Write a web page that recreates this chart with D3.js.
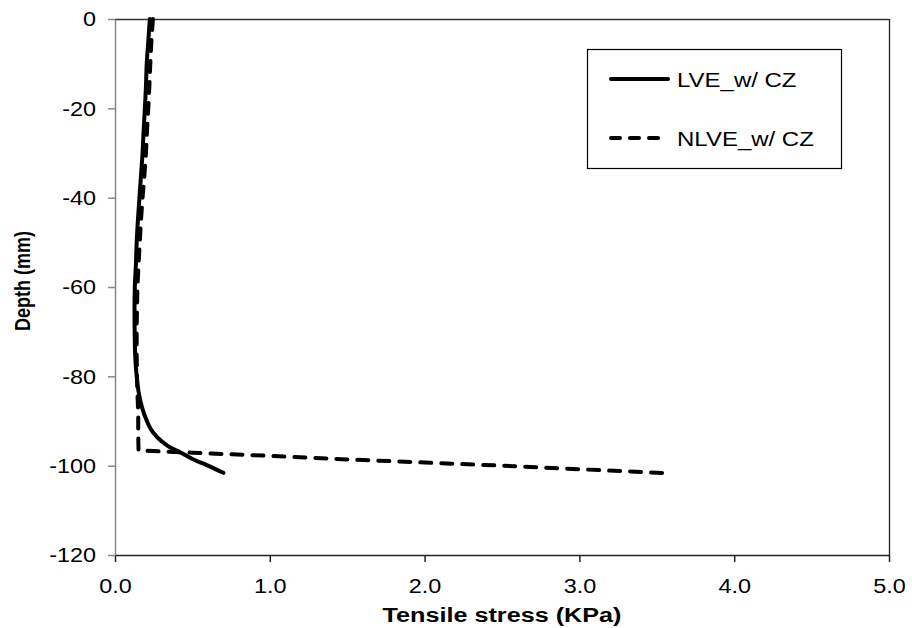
<!DOCTYPE html>
<html><head><meta charset="utf-8">
<script src="https://cdn.jsdelivr.net/npm/d3@7/dist/d3.min.js"></script>
<style>body{margin:0;background:#fff}svg{display:block}text{font-family:Arial,"Liberation Sans",sans-serif;fill:#000}</style>
</head><body><svg id="c" width="912" height="628"></svg>
<script>
const seriesNames = ["LVE_w/ CZ", "NLVE_w/ CZ"];
const lveStress = [0.225,0.215,0.205,0.2,0.193,0.185,0.178,0.168,0.158,0.148,0.14,0.135,0.128,0.126,0.127,0.13,0.14,0.155,0.175,0.2,0.245,0.3,0.36,0.42,0.5,0.6,0.70];
const lveDepth  = [0,-5,-10,-15,-20,-25,-30,-35,-40,-45,-50,-55,-60,-65,-70,-75,-80,-84,-87,-89.5,-92.5,-94.5,-96,-97,-98.5,-100,-101.6];
const nlveStress = [0.245,0.235,0.228,0.222,0.215,0.207,0.2,0.19,0.178,0.168,0.16,0.152,0.145,0.142,0.14,0.14,0.142,0.145,0.15,0.15,0.152,0.5,1.0,1.5,2.0,2.5,3.0,3.59];
const nlveDepth  = [0,-5,-10,-15,-20,-25,-30,-35,-40,-45,-50,-55,-60,-65,-70,-75,-80,-84,-88,-93,-96.6,-97.1,-97.8,-98.6,-99.3,-100.0,-100.8,-101.7];
const xTicks = [0,1,2,3,4,5];
const yTicks = [0,-20,-40,-60,-80,-100,-120];

const svg = d3.select("#c");
const L=115, R=889, T=19, B=555;
const x = d3.scaleLinear().domain([0,5]).range([L,R]);
const y = d3.scaleLinear().domain([-120,0]).range([B,T]);
const SX = 1.2;

// frame top and right
svg.append("line").attr("x1",L).attr("x2",R).attr("y1",T+0.5).attr("y2",T+0.5).attr("stroke","#333").attr("stroke-width",1.3);
svg.append("line").attr("x1",R+0.5).attr("x2",R+0.5).attr("y1",T).attr("y2",B).attr("stroke","#222").attr("stroke-width",1.3);

// x axis
const gx = svg.append("g").attr("transform",`translate(0,${B})`)
  .call(d3.axisBottom(x).tickValues(xTicks).tickFormat(d3.format(".1f")).tickSize(7).tickSizeOuter(0));
gx.select(".domain").attr("stroke","#222").attr("stroke-width",1.5);
gx.selectAll(".tick line").attr("stroke","#222").attr("stroke-width",1.5);
gx.selectAll(".tick text").attr("y",null).attr("dy",null).attr("font-size",19.5)
  .attr("transform",`translate(0,38) scale(${SX},1)`).style("font-family","Arial, 'Liberation Sans', sans-serif");

// y axis
const gy = svg.append("g").attr("transform",`translate(${L},0)`)
  .call(d3.axisLeft(y).tickValues(yTicks).tickFormat(d => String(d)).tickSize(7).tickSizeOuter(0));
gy.select(".domain").attr("stroke","#888").attr("stroke-width",1.5);
gy.selectAll(".tick line").attr("stroke","#888").attr("stroke-width",1.5);
gy.selectAll(".tick text").attr("x",null).attr("dy","0.35em").attr("font-size",19.5)
  .attr("text-anchor","end").attr("transform",`translate(-19,0) scale(${SX},1)`).style("font-family","Arial, 'Liberation Sans', sans-serif");

// axis titles
svg.append("text").attr("transform",`translate(${(L+R)/2},622) scale(${SX},1)`).attr("text-anchor","middle")
  .attr("font-size",21).attr("font-weight","bold").text("Tensile stress (KPa)");
svg.append("text").attr("transform",`translate(30,281) scale(${SX},1) rotate(-90)`).attr("text-anchor","middle")
  .attr("font-size",18).attr("font-weight","bold").text("Depth (mm)");

const line = d3.line().x(d=>x(d[0])).y(d=>y(d[1])).curve(d3.curveMonotoneY);
const lve = lveStress.map((s,i)=>[s,lveDepth[i]]);
const nlve = nlveStress.map((s,i)=>[s,nlveDepth[i]]);
const lineN = d3.line().x(d=>x(d[0])).y(d=>y(d[1]));

svg.append("path").datum(nlve).attr("d",lineN).attr("fill","none").attr("stroke","#000")
  .attr("stroke-width",4).attr("stroke-dasharray","11,10").attr("stroke-linecap","round").attr("stroke-linejoin","round");
svg.append("path").datum(lve).attr("d",line).attr("fill","none").attr("stroke","#000")
  .attr("stroke-width",4).attr("stroke-linecap","round").attr("stroke-linejoin","round");

// legend
const lg = svg.append("g");
lg.append("rect").attr("x",587.5).attr("y",49.5).attr("width",254).attr("height",119).attr("fill","#fff").attr("stroke","#000").attr("stroke-width",1.2);
const dashes = [null,"11,10"];
seriesNames.forEach((n,i)=>{
  const ly = 79 + i*59;
  const ln = lg.append("line").attr("x1",611).attr("x2",668).attr("y1",ly).attr("y2",ly).attr("stroke","#000").attr("stroke-width",4).attr("stroke-linecap","round");
  if (dashes[i]) ln.attr("stroke-dasharray","9,10");
  lg.append("text").attr("transform",`translate(677,${ly+7.5}) scale(${SX},1)`).attr("font-size",20).text(n);
});
</script></body></html>
